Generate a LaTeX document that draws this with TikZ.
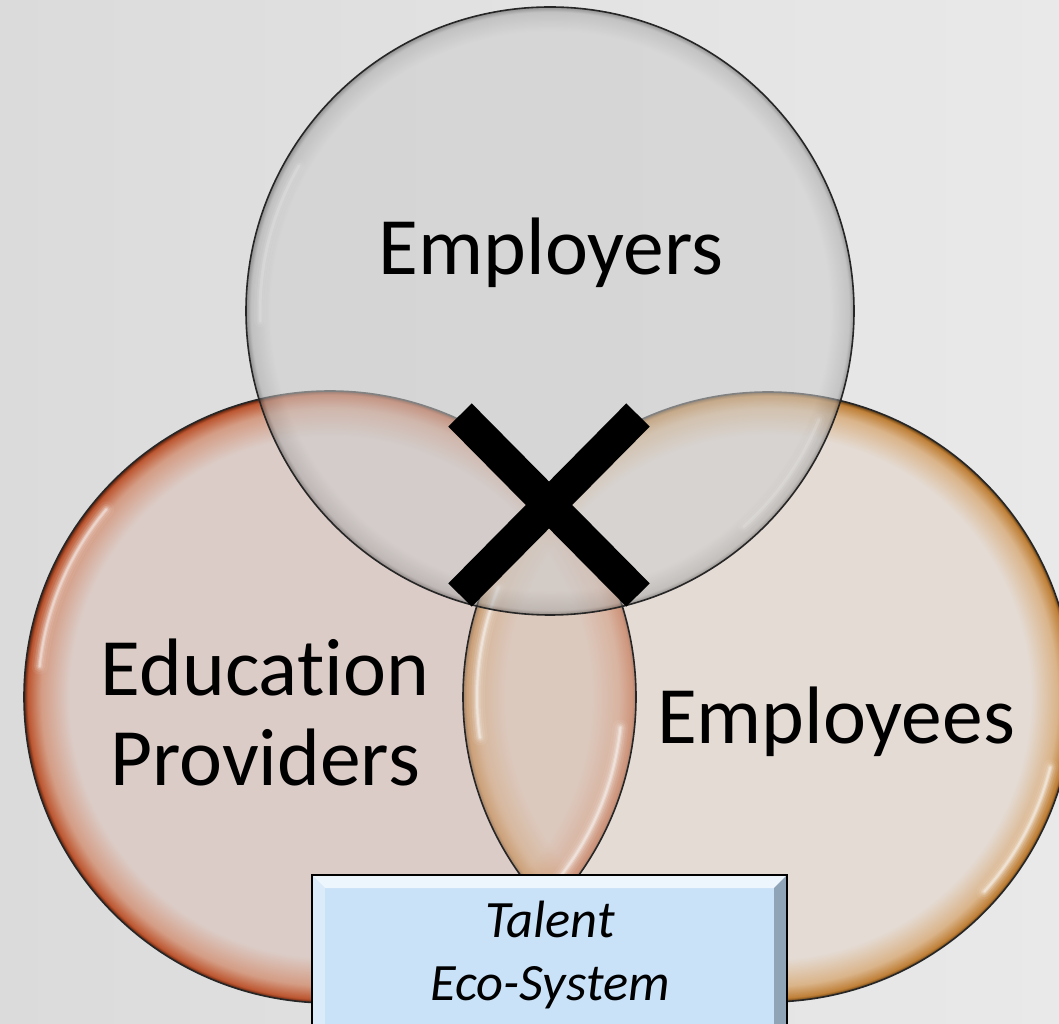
\documentclass[tikz,border=0pt]{standalone}
\usepackage{fontspec}
\setmainfont{Carlito}[Ligatures={NoCommon}]
\definecolor{bgL}{HTML}{DBDBDB}
\definecolor{bgR}{HTML}{E9E9E9}
\definecolor{lIn}{HTML}{DBCCC7}
\definecolor{lMid}{HTML}{D49C84}
\definecolor{lRim}{HTML}{BD5731}
\definecolor{lEdge}{HTML}{5E220E}
\definecolor{rIn}{HTML}{E4DBD4}
\definecolor{rMid}{HTML}{DAB48A}
\definecolor{rRim}{HTML}{BF8038}
\definecolor{rEdge}{HTML}{5E3A10}
\definecolor{tIn}{HTML}{CDCDCD}
\definecolor{tMid}{HTML}{A9A9A9}
\definecolor{tEdge}{HTML}{505050}
\definecolor{lensTint}{HTML}{C8865A}
\definecolor{boxFill}{HTML}{C9E2F8}
\definecolor{bevTop}{HTML}{EEF6FD}
\definecolor{bevLeft}{HTML}{DCEBF9}
\definecolor{bevRight}{HTML}{8FA4B6}
\pgfdeclareradialshading{leftshade}{\pgfpoint{0bp}{0bp}}{color(0bp)=(lIn); color(21.3bp)=(lIn); color(23.6bp)=(lMid); color(24.7bp)=(lRim); color(25bp)=(lEdge); color(50bp)=(lEdge)}
\pgfdeclareradialshading{rightshade}{\pgfpoint{0bp}{0bp}}{color(0bp)=(rIn); color(21.5bp)=(rIn); color(23.7bp)=(rMid); color(24.7bp)=(rRim); color(25bp)=(rEdge); color(50bp)=(rEdge)}
\pgfdeclareradialshading{topshade}{\pgfpoint{0bp}{0bp}}{color(0bp)=(tIn); color(23bp)=(tIn); color(24.6bp)=(tMid); color(25bp)=(tEdge); color(50bp)=(tEdge)}
\tikzset{
  venn/.style={circle, inner sep=0pt, shade},
  rimline/.style={draw=black!85, line width=1.6pt},
  hl/.style={white, line width=#1, line cap=round},
  label/.style={font=\fontsize{81.5}{90}\selectfont, text=black, align=center},
  boxlabel/.style={font=\fontsize{52.5}{63}\selectfont\itshape, text=black, align=center},
  cross/.style={line width=33pt, black, line cap=butt}
}
\begin{document}
\begin{tikzpicture}[x=1pt, y=1pt]
\useasboundingbox (0,0) rectangle (1059,1023);
\clip (0,0) rectangle (1059,1023);
\shade[left color=bgL, right color=bgR] (0,0) rectangle (1059,1023);

% left and right circles
\node[venn, shading=leftshade, minimum size=612pt] (L) at (330,326) {};
\node[venn, shading=rightshade, minimum size=610pt] (R) at (768,326) {};
\begin{scope}
  \clip (R.center) circle[radius=305];
  \shade[shading=leftshade, opacity=0.5] (L.center) circle[radius=306];
  \fill[lensTint, opacity=0.13] (L.center) circle[radius=306];
\end{scope}
\draw[rimline] (L.center) circle[radius=306];
\draw[rimline] (R.center) circle[radius=305];

% highlights of left and right circles
\foreach \c/\r/\a/\b in {L/306/140/174, L/306/-6/-38, R/305/158/188, R/305/-14/-42}{
  \foreach \w/\o in {16/0.06, 11/0.1, 7/0.16, 4/0.25, 2/0.35}{
    \draw[hl=\w pt, opacity=\o] ([shift={(\a:\r-14)}]\c.center) arc[start angle=\a, end angle=\b, radius=\r-14];
  }
}

% top circle
\node[venn, shading=topshade, minimum size=608pt, opacity=0.55] (T) at (550,712) {};
\draw[rimline] (T.center) circle[radius=304];
\foreach \a/\b in {150/182, -22/-48}{
  \foreach \w/\o in {12/0.05, 7/0.08, 3/0.15}{
    \draw[hl=\w pt, opacity=\o] ([shift={(\a:290)}]T.center) arc[start angle=\a, end angle=\b, radius=290];
  }
}

% cross
\coordinate (xa) at (460,608);
\coordinate (xb) at (638,428);
\coordinate (xc) at (638,608);
\coordinate (xd) at (460,428);
\draw[cross] (xa) -- (xb);
\draw[cross] (xc) -- (xd);

% labels
\node[label, anchor=base] (emp) at (551,748) {Employers};
\node[label, anchor=base] (edu) at (265,238) {Education\\Providers};
\node[label, anchor=base] (empl) at (836,280) {Employees};

% box
\node[rectangle, fill=boxFill, minimum width=475pt, minimum height=180pt, inner sep=0pt, anchor=north] (box) at (549.5,148) {};
\fill[bevTop] (box.north west) -- (box.north east) -- ([shift={(-13,-13)}]box.north east) -- ([shift={(13,-13)}]box.north west) -- cycle;
\fill[bevLeft] (box.north west) -- ([shift={(13,-13)}]box.north west) -- ([shift={(13,13)}]box.south west) -- (box.south west) -- cycle;
\fill[bevRight] (box.north east) -- ([shift={(-13,-13)}]box.north east) -- ([shift={(-13,13)}]box.south east) -- (box.south east) -- cycle;
\draw[black, line width=2.5pt] (box.north west) rectangle (box.south east);
\node[boxlabel, anchor=base] (tes) at (550,23) {Talent\\Eco-System};
\end{tikzpicture}
\end{document}
